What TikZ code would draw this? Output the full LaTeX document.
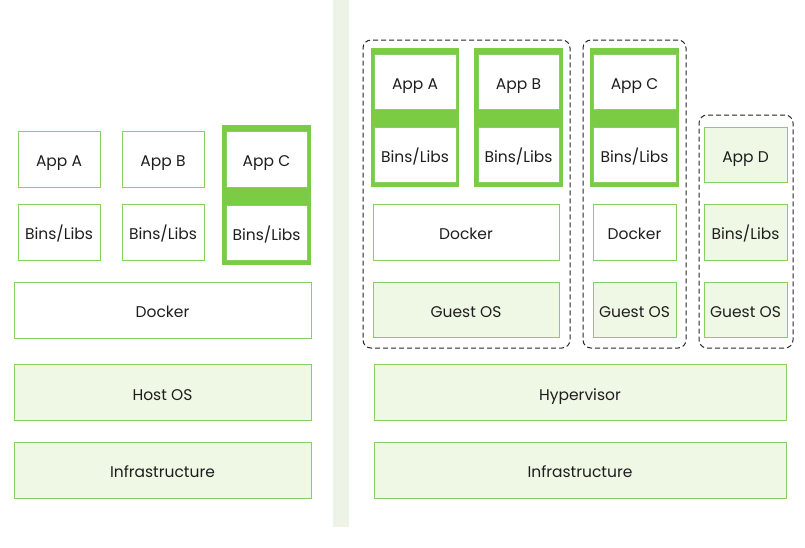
\documentclass[tikz,border=0pt]{standalone}
\usepackage{fontspec}
\setmainfont{Poppins}
\definecolor{leafgreen}{HTML}{7CCB45}
\definecolor{edgegreen}{HTML}{86CF62}
\definecolor{palegreen}{HTML}{EEF8E5}
\definecolor{stripegreen}{HTML}{EEF3E8}
\definecolor{inkgray}{HTML}{1E1E1E}
\tikzset{
  layer/.style={draw=edgegreen, line width=1pt, fill=white, text=inkgray,
    inner sep=0pt, text height=15pt, text depth=0pt,
    font=\fontsize{15.5}{17}\selectfont},
  base/.style={layer, fill=palegreen},
  appframe/.style={fill=leafgreen, draw=none, inner sep=0pt},
  vmbox/.style={draw=black!85, line width=1pt, dash pattern=on 5pt off 3pt,
    rounded corners=8pt, inner sep=0pt}
}
\begin{document}
\begin{tikzpicture}[x=1pt,y=-1pt]
  \useasboundingbox (0,0) rectangle (805,547);
  % divider
  \fill[stripegreen] (333,0) rectangle (349,527);

  % container side
  \node[appframe, minimum width=89pt, minimum height=140pt] (frameC) at (266.5,195) {};
  \node[layer, minimum width=82pt, minimum height=56pt] (appA) at (59,159) {App A};
  \node[layer, minimum width=82pt, minimum height=56pt] (binsA) at (59,232) {Bins/Libs};
  \node[layer, minimum width=82pt, minimum height=56pt] (appB) at (163,159) {App B};
  \node[layer, minimum width=82pt, minimum height=56pt] (binsB) at (163,232) {Bins/Libs};
  \node[layer, minimum width=81pt, minimum height=56pt] (appC) at (266.5,159) {App C};
  \node[layer, minimum width=81pt, minimum height=55pt] (binsC) at (266.5,232.5) {Bins/Libs};
  \node[layer, minimum width=297pt, minimum height=56pt] (docker) at (162.5,310) {Docker};
  \node[base, minimum width=297pt, minimum height=56pt] (hostos) at (162.5,392.5) {Host OS};
  \node[base, minimum width=297pt, minimum height=56pt] (infra) at (162.5,470) {Infrastructure};

  % virtual machine side
  \node[vmbox, minimum width=207pt, minimum height=308pt] (vmOne) at (466.5,194) {};
  \node[vmbox, minimum width=103pt, minimum height=308pt] (vmTwo) at (634.5,194) {};
  \node[vmbox, minimum width=94pt, minimum height=233pt] (vmThree) at (746,231.5) {};

  \node[appframe, minimum width=88pt, minimum height=139pt] (frameVA) at (415,117.5) {};
  \node[appframe, minimum width=89pt, minimum height=139pt] (frameVB) at (518.5,117.5) {};
  \node[appframe, minimum width=89pt, minimum height=139pt] (frameVC) at (634.5,117.5) {};

  \node[layer, minimum width=82pt, minimum height=55pt] (vappA) at (415,81.5) {App A};
  \node[layer, minimum width=82pt, minimum height=55pt] (vbinsA) at (415,154.5) {Bins/Libs};
  \node[layer, minimum width=81pt, minimum height=55pt] (vappB) at (518.5,81.5) {App B};
  \node[layer, minimum width=81pt, minimum height=55pt] (vbinsB) at (518.5,154.5) {Bins/Libs};
  \node[layer, minimum width=186pt, minimum height=56pt] (vdockerOne) at (466,232) {Docker};
  \node[base, minimum width=186pt, minimum height=55pt] (guestOne) at (466,309.5) {Guest OS};

  \node[layer, minimum width=83pt, minimum height=55pt] (vappC) at (634.5,81.5) {App C};
  \node[layer, minimum width=83pt, minimum height=55pt] (vbinsC) at (634.5,154.5) {Bins/Libs};
  \node[layer, minimum width=83pt, minimum height=56pt] (vdockerTwo) at (634.5,232) {Docker};
  \node[base, minimum width=83pt, minimum height=55pt] (guestTwo) at (634.5,309.5) {Guest OS};

  \node[base, minimum width=83pt, minimum height=55pt] (vappD) at (745.5,154.5) {App D};
  \node[base, minimum width=83pt, minimum height=56pt] (vbinsD) at (745.5,232) {Bins/Libs};
  \node[base, minimum width=83pt, minimum height=55pt] (guestThree) at (745.5,309.5) {Guest OS};

  \node[base, minimum width=412pt, minimum height=56pt] (hyper) at (580,392.5) {Hypervisor};
  \node[base, minimum width=412pt, minimum height=56pt] (vinfra) at (580,470) {Infrastructure};
\end{tikzpicture}
\end{document}
